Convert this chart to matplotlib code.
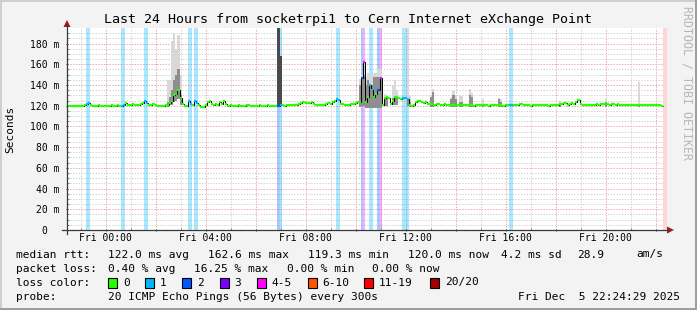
import numpy as np
import matplotlib
matplotlib.use('Agg')
import matplotlib.pyplot as plt
from matplotlib.patches import Rectangle, Polygon
from matplotlib.lines import Line2D
from matplotlib.collections import LineCollection

# ---------------- data ----------------
title = "Last 24 Hours from socketrpi1 to Cern Internet eXchange Point"
t_start = -1.545          # hours relative to Fri 00:00
step_h = 1.0 / 12.0       # 300 s steps

median_ms = [
    120.0, 120.0, 120.0, 120.0, 120.0, 120.0, 120.0, 120.0, 120.5,          # 0-8
    122.0, 123.0,                                                          # 9-10
    120.5, 120.0, 120.0, 120.0, 120.5, 120.0, 120.0, 120.0, 120.0, 120.0,
    120.5, 120.0, 120.0, 120.5, 120.0,                                     # 11-25
    120.0, 120.5,                                                          # 26-27
    122.5, 121.0, 120.5, 121.5, 121.0, 120.5, 121.0, 121.5, 122.5,          # 28-36
    124.5, 123.0,                                                          # 37-38
    121.0, 120.5, 121.5, 120.5, 120.0, 119.5, 119.5, 120.0, 120.5, 121.0,   # 39-48
    123.0, 125.0, 130.0, 131.0, 135.5, 127.0,                              # 49-54
    122.0, 119.5, 119.5,                                                   # 55-57
    124.5, 122.0,                                                          # 58-59
    121.0,                                                                 # 60
    124.5, 123.0,                                                          # 61-62
    121.0, 119.0, 119.0, 120.5,                                            # 63-66
    124.0, 124.5, 122.0,                                                   # 67-69
    121.0, 121.5, 121.0,                                                   # 70-72
    123.5, 122.0, 124.5, 121.5,                                            # 73-76
    120.0, 120.5, 120.0, 120.0, 120.0, 120.5, 120.0, 120.0, 120.0, 120.5,
    120.5, 120.0, 120.0, 120.0, 120.0, 120.5, 120.0, 120.0, 120.0, 120.5,
    120.0, 120.0, 120.0, 120.0,                                            # 77-100
    120.0, 120.5,                                                          # 101-102
    120.5, 120.0, 121.0, 120.5, 121.0, 120.5, 121.0, 121.0,                # 103-110
    122.0, 123.0, 124.0, 123.0, 122.5,                                     # 111-115
    122.5, 123.5, 122.0,                                                   # 116-118
    121.0, 120.5, 121.0, 120.5, 121.0,                                     # 119-123
    122.0, 123.0, 122.0, 124.0, 124.5,                                     # 124-128
    126.0, 125.5,                                                          # 129-130
    122.0, 121.5, 121.0, 120.5, 121.0, 121.5, 122.0,                       # 131-137
    123.0, 124.0, 123.5,                                                   # 138-140
    147.0,                                                                 # 141
    162.6,                                                                 # 142
    123.5, 128.0, 140.0, 135.0, 128.5, 131.0, 135.0, 147.0,                # 143-150
    121.0, 127.5, 128.0, 127.0, 121.5,                                     # 151-155
    125.0, 128.0, 128.0, 127.0, 126.0,                                     # 156-160
    127.0, 127.0, 126.0,                                                   # 161-163
    121.0, 120.0, 121.0,                                                   # 164-166
    124.0, 125.0, 125.0, 124.0,                                            # 167-170
    123.0, 123.5, 122.0, 122.0, 121.5,                                     # 171-175
    121.0, 121.5, 122.0, 121.0, 120.5, 121.5, 121.0, 120.5, 121.0, 121.0,
    120.5,                                                                 # 176-186
    120.5, 120.5, 121.0, 120.5, 120.5, 121.0, 120.5, 120.5, 120.0, 120.5,
    120.5, 121.0, 120.5, 120.5, 120.5, 120.0, 120.5, 120.5, 121.0, 120.5,
    120.5, 120.5, 120.0, 120.5, 121.0,                                     # 187-211
    121.0, 121.0,                                                          # 212-213
    120.5, 121.0, 121.0,                                                   # 214-216
    122.0, 122.0,                                                          # 217-218
    120.5, 120.5, 120.5, 120.0, 120.5, 120.5, 120.5, 121.0, 120.5, 120.5,
    120.5, 120.5, 120.0, 120.5, 120.5, 120.5, 120.5, 121.5,                # 219-236
    122.0, 122.5, 123.0, 121.0, 122.0, 123.0, 121.5,                       # 237-243
    124.0, 125.5, 122.0,                                                   # 244-246
    120.5, 120.5, 121.0, 120.5, 120.5, 120.5, 121.0, 122.0, 121.0,         # 247-255
    121.5, 121.5, 122.0, 121.5, 121.0, 121.5, 121.5, 121.0, 121.5, 121.0,  # 256-265
    120.5, 120.5, 120.5, 121.0, 120.5, 120.5, 120.5, 120.5, 120.5, 120.5,
    121.0, 120.5, 120.5, 120.5, 120.5, 120.5, 120.5, 120.5, 120.5, 120.0,  # 266-285
    np.nan, np.nan,                                                        # 286-287 (unknown)
]

loss_steps = [9, 10, 26, 27, 37, 38, 58, 59, 61, 62, 101, 102, 129, 130,
              141, 142, 145, 146, 149, 150, 161, 162, 163, 212, 213]
loss_count = [1, 1, 1, 1, 1, 1, 1, 1, 1, 1, 2, 1, 1, 1,
              2, 4, 1, 1, 2, 4, 1, 1, 1, 1, 1]

spike_step = [48, 49, 50, 51, 52, 53, 54, 101, 102,
              140, 141, 142, 143, 144, 145, 146, 147, 148, 149, 150,
              152, 153, 156, 157, 158, 163, 164, 174, 175, 184, 185,
              186, 188, 189, 193, 194, 199, 207, 208, 236, 258, 274]
spike_top = [145, 145, 182, 190, 175, 188, 150, 195, 168,
             146, 150, 160, 148, 152, 150, 150, 152, 152, 155, 155,
             131, 130, 140, 145, 135, 195, 130, 130, 136, 128, 134,
             130, 130, 129, 136, 132, 126, 127, 126, 125, 126, 143]
spike_dark = [124, 128, 135, 145, 150, 155, 130, 195, 168,
              140, 146, 150, 140, 145, 140, 140, 148, 148, 148, 148,
              128, 128, 127, 128, 128, 126, 124, 128, 133, 126, 130,
              126, 124, 124, 130, 128, 122, 126, 124, 123, 124, 121]
spike_low = [119, 121, 121, 124, 125, 126, 121, 120, 120,
             119, 120, 120, 118, 118, 118, 118, 118, 118, 118, 118,
             120, 120, 121, 121, 121, 120, 119, 119, 119, 119, 119,
             119, 119, 119, 119, 119, 119, 119, 119, 119, 119, 119]

loss_legend = ["0", "1", "2", "3", "4-5", "6-10", "11-19", "20/20"]
loss_colors = ["#26ff00", "#00b8ff", "#0059ff", "#7e00ff", "#ff00ff",
               "#ff5500", "#ff0000", "#a10000"]

y_ticks = [0, 20, 40, 60, 80, 100, 120, 140, 160, 180]
x_label_hours = [0, 4, 8, 12, 16, 20]
x_labels = ["Fri 00:00", "Fri 04:00", "Fri 08:00", "Fri 12:00", "Fri 16:00", "Fri 20:00"]

rtt_stats = ["122.0 ms avg", "162.6 ms max", "119.3 ms min", "120.0 ms now",
             "4.2 ms sd", "28.9", "am/s"]
loss_stats = ["0.40 % avg", "16.25 % max", "0.00 % min", "0.00 % now"]
probe_text = "20 ICMP Echo Pings (56 Bytes) every 300s"
stamp_text = "Fri Dec  5 22:24:29 2025"

# ---------------- layout ----------------
W, H = 697, 310
MONO = "DejaVu Sans Mono"
fig = plt.figure(figsize=(W / 100, H / 100), dpi=100)
fig.patch.set_facecolor("#f3f3f3")

L, R, T, B = 67, 667, 28, 230


def fx(x):
    return x / W


def fy(y):
    return 1 - y / H


ax = fig.add_axes([fx(L), fy(B), (R - L) / W, (B - T) / H])
ax.set_facecolor("white")
for s in ax.spines.values():
    s.set_visible(False)

n = len(median_ms)
med = np.array(median_ms, dtype=float)
edges = t_start + np.arange(n + 1) * step_h
t_end = t_start + 24
ax.set_xlim(t_start, t_end)
ax.set_ylim(0, 195)

# grid (faint dotted)
grid_minor = "#d4d4d4"
grid_major = "#eeaaaa"
for yv in range(5, 195, 5):
    major = (yv % 20 == 0)
    ax.axhline(yv, color=grid_major if major else grid_minor, lw=0.72,
               ls=(0, (1.4, 1.4)), zorder=0.6 if major else 0.5)
for hv in range(-1, 23):
    major = (hv % 2 == 0)
    ax.axvline(hv, color=grid_major if major else grid_minor, lw=0.72,
               ls=(0, (1.4, 1.4)), zorder=0.6 if major else 0.5)

# loss bands
loss = np.zeros(n, dtype=int)
for s_, c_ in zip(loss_steps, loss_count):
    loss[s_] = c_


def loss_color(c):
    if c == 0:
        return loss_colors[0]
    if c <= 3:
        return loss_colors[c]
    if c <= 5:
        return loss_colors[4]
    if c <= 10:
        return loss_colors[5]
    if c <= 19:
        return loss_colors[6]
    return loss_colors[7]


for s_, c_ in zip(loss_steps, loss_count):
    ax.axvspan(edges[s_], edges[s_ + 1], color=loss_color(c_), alpha=0.33, lw=0, zorder=1)
for i in range(n):
    if np.isnan(med[i]):
        ax.axvspan(edges[i], edges[i + 1], color="#ffd6d6", lw=0, zorder=1)

# smoke
for s_, top, dk, lo in zip(spike_step, spike_top, spike_dark, spike_low):
    ax.fill_between([edges[s_], edges[s_ + 1]], lo, top, color="#d8d8d8", lw=0, zorder=2)
    shade = "#4a4a4a" if dk >= 165 else "#8e8e8e"
    ax.fill_between([edges[s_], edges[s_ + 1]], lo, dk, color=shade, lw=0, zorder=2.1)

# median line: black steps + loss-colored horizontal segments
ax.stairs(med, edges, baseline=None, color="black", lw=0.75, zorder=3)
segs, cols = [], []
for i in range(n):
    if not np.isnan(med[i]):
        segs.append([(edges[i], med[i]), (edges[i + 1], med[i])])
        cols.append(loss_color(loss[i]))
ax.add_collection(LineCollection(segs, colors=cols, linewidths=1.6, capstyle="butt", zorder=4))

# ticks
ax.set_yticks(y_ticks)
ax.set_yticklabels(["0  "] + [f"{v} m" for v in y_ticks[1:]], family=MONO, fontsize=7)
ax.set_xticks(list(range(0, 23, 2)))
ax.set_xticklabels([x_labels[x_label_hours.index(h)] if h in x_label_hours else "" for h in range(0, 23, 2)],
                   family=MONO, fontsize=7)
ax.set_yticks(list(range(5, 195, 5)), minor=True)
ax.set_xticks(list(range(-1, 23)), minor=True)
ax.tick_params(axis="both", which="major", length=2, width=0.75, color="#404040", pad=1.5, direction="inout")
ax.tick_params(axis="both", which="minor", length=1.5, width=0.75, color="#808080", direction="in")
ax.tick_params(axis="y", which="major", pad=4.5)

# axes lines and arrows
axis_col = "#3a3a3a"
arrow_col = "#9a1c1c"
fig.add_artist(Line2D([fx(62), fx(668)], [fy(B), fy(B)], color=axis_col, lw=0.9))
fig.add_artist(Line2D([fx(L), fx(L)], [fy(234), fy(26)], color=axis_col, lw=0.9))
fig.add_artist(Polygon([(fx(667), fy(226.5)), (fx(667), fy(233.5)), (fx(674), fy(B))],
                       closed=True, transform=fig.transFigure, color=arrow_col, lw=0))
fig.add_artist(Polygon([(fx(63.5), fy(27)), (fx(70.5), fy(27)), (fx(L), fy(20))],
                       closed=True, transform=fig.transFigure, color=arrow_col, lw=0))

# title, labels, watermark
fig.text(fx(347.5), fy(19), title, ha="center", va="center", family=MONO, fontsize=9.6)
fig.text(fx(10), fy(129), "Seconds", rotation=90, ha="center", va="center", family=MONO, fontsize=8)
fig.text(fx(687.5), fy(6), "RRDTOOL / TOBI OETIKER", rotation=-90, ha="center", va="top",
         family=MONO, fontsize=8.4, color="#b8b8b8")

# legend rows
LF = 8
rows_y = [254.5, 268.5, 282.5, 296.5]
fig.text(fx(16), fy(rows_y[0]), "median rtt:", family=MONO, fontsize=LF, va="center")
for txt, x in zip(rtt_stats, [107.6, 207.6, 307.6, 407.6, 501, 577, 636]):
    fig.text(fx(x), fy(rows_y[0]), txt, family=MONO, fontsize=LF, va="center")
fig.text(fx(16), fy(rows_y[1]), "packet loss:", family=MONO, fontsize=LF, va="center")
for txt, x in zip(loss_stats, [107.6, 194.2, 286.7, 372]):
    fig.text(fx(x), fy(rows_y[1]), txt, family=MONO, fontsize=LF, va="center")
fig.text(fx(16), fy(rows_y[2]), "loss color:", family=MONO, fontsize=LF, va="center")
sw_x = [108, 145, 182, 219.5, 256.5, 307.5, 363.5, 430]
for lab, col, x in zip(loss_legend, loss_colors, sw_x):
    fig.add_artist(Rectangle((fx(x), fy(rows_y[2] + 5)), 9 / W, 10 / H, transform=fig.transFigure,
                             facecolor=col, edgecolor="black", lw=0.8))
    fig.text(fx(x + 15), fy(rows_y[2]), lab, family=MONO, fontsize=LF, va="center")
fig.text(fx(16), fy(rows_y[3]), "probe:", family=MONO, fontsize=LF, va="center")
fig.text(fx(107.6), fy(rows_y[3]), probe_text, family=MONO, fontsize=LF, va="center")
fig.text(fx(680), fy(rows_y[3]), stamp_text, family=MONO, fontsize=LF, va="center", ha="right")

# frame shading
fig.add_artist(Rectangle((0, fy(2)), 1, 2 / H, transform=fig.transFigure, color="#cfcfcf", lw=0))
fig.add_artist(Rectangle((0, 0), 2 / W, 1, transform=fig.transFigure, color="#cfcfcf", lw=0))
fig.add_artist(Rectangle((0, 0), 1, 2 / H, transform=fig.transFigure, color="#9e9e9e", lw=0))
fig.add_artist(Rectangle((fx(W - 2), 0), 2 / W, 1, transform=fig.transFigure, color="#9e9e9e", lw=0))

fig.savefig("out.png", dpi=100, facecolor=fig.get_facecolor())
